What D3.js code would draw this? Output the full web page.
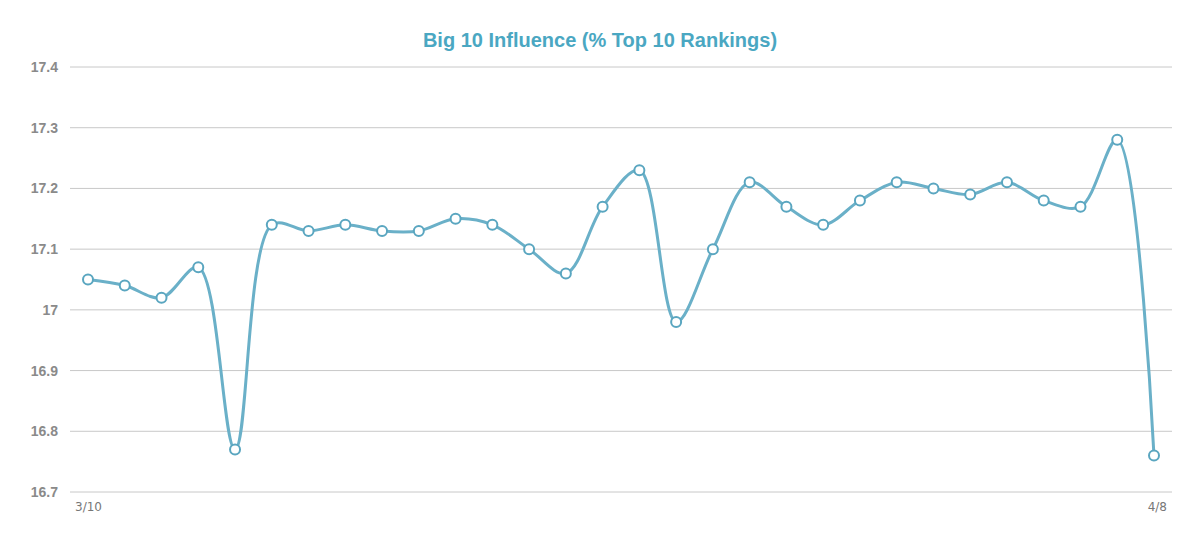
<!DOCTYPE html>
<html><head><meta charset="utf-8">
<script src="https://cdn.jsdelivr.net/npm/d3@7"></script>
<style>body{margin:0;background:#fff}</style></head>
<body><svg id="c" width="1200" height="534"></svg>
<script>
const values=[17.05,17.04,17.02,17.07,16.77,17.14,17.13,17.14,17.13,17.13,17.15,17.14,17.10,17.06,17.17,17.23,16.98,17.10,17.21,17.17,17.14,17.18,17.21,17.20,17.19,17.21,17.18,17.17,17.28,16.76];
const yTicks=[16.7,16.8,16.9,17,17.1,17.2,17.3,17.4];
const xLabels=[{i:0,t:"3/10"},{i:29,t:"4/8"}];
const svg=d3.select("#c");
const x=d3.scaleLinear().domain([0,29]).range([88,1154]);
const y=d3.scaleLinear().domain([16.7,17.4]).range([492,67]);
svg.append("text").attr("x",600).attr("y",47).attr("text-anchor","middle")
 .attr("font-family","Arial, Liberation Sans").attr("font-weight","bold").attr("font-size",20)
 .attr("fill","#4aa7c2").text("Big 10 Influence (% Top 10 Rankings)");
yTicks.forEach(t=>{
 svg.append("line").attr("x1",70).attr("x2",1172).attr("y1",y(t)).attr("y2",y(t)).attr("stroke","#c8c8c8").attr("stroke-width",1);
 svg.append("text").attr("x",58).attr("y",y(t)+5).attr("text-anchor","end").attr("font-family","Arial, Liberation Sans")
  .attr("font-weight","bold").attr("font-size",14).attr("fill","#8a8a8a").text(t);
});
xLabels.forEach(d=>{
 svg.append("text").attr("x",d.i==0?75:1167).attr("y",511).attr("text-anchor",d.i==0?"start":"end").attr("font-family","DejaVu Sans")
  .attr("font-size",12).attr("fill","#777").text(d.t);
});
const line=d3.line().x((d,i)=>x(i)).y(d=>y(d)).curve(d3.curveCatmullRom.alpha(0.5));
svg.append("path").datum(values).attr("d",line).attr("fill","none").attr("stroke","#6ab0c8").attr("stroke-width",3);
svg.selectAll("circle").data(values).join("circle").attr("cx",(d,i)=>x(i)).attr("cy",d=>y(d)).attr("r",5)
 .attr("fill","#fff").attr("stroke","#5aa6c0").attr("stroke-width",2);
</script></body></html>
